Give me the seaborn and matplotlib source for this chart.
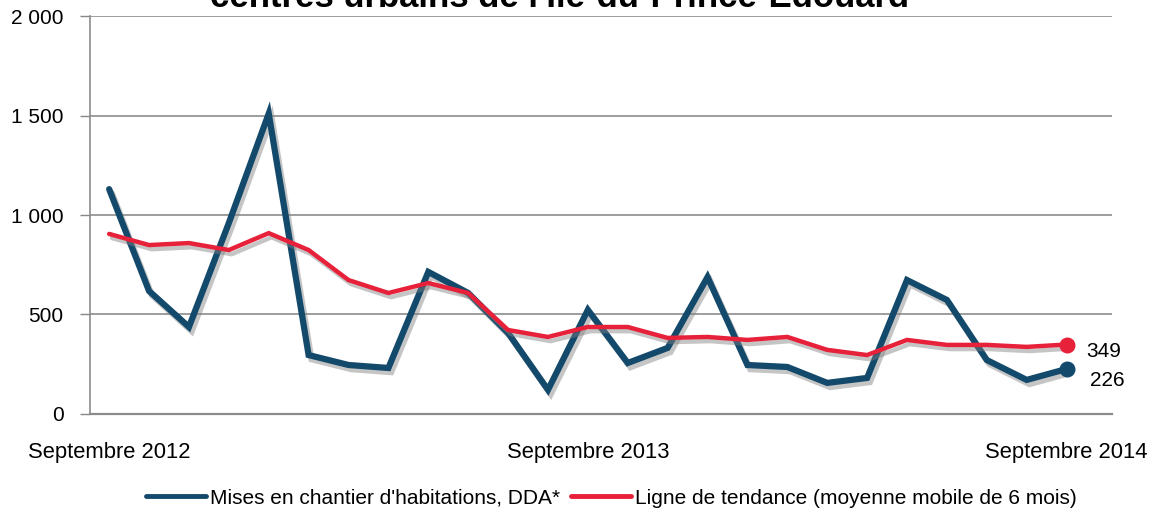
import numpy as np
import pandas as pd
import matplotlib
matplotlib.use("Agg")
import matplotlib.pyplot as plt
import matplotlib.patheffects as pe
import seaborn as sns


# Data (monthly, Sept 2012 -> Sept 2014)
months = list(range(25))

starts = [1130, 618, 437, 960, 1510, 296, 246, 231, 714, 608, 407, 121,
          523, 256, 332, 688, 246, 236, 156, 181, 673, 573, 271, 171, 226]

trend = [905, 849, 859, 824, 909, 824, 673, 608, 658, 608, 422, 387,
         437, 437, 382, 387, 372, 387, 322, 296, 372, 347, 347, 337, 349]

tick_pos = [0, 12, 24]
tick_labels = ["Septembre 2012", "Septembre 2013", "Septembre 2014"]

series_names = ["Mises en chantier d'habitations, DDA*",
                "Ligne de tendance (moyenne mobile de 6 mois)"]

BLUE = "#134a6c"
RED = "#e8213b"


df = pd.DataFrame({
    "mois": months * 2,
    "valeur": starts + trend,
    "serie": [series_names[0]] * 25 + [series_names[1]] * 25,
})


sns.set_style("white")
plt.rcParams["font.family"] = ["Liberation Sans", "DejaVu Sans"]
plt.rcParams["text.color"] = "black"
plt.rcParams["xtick.color"] = "black"
plt.rcParams["ytick.color"] = "black"

fig = plt.figure(figsize=(11.6, 5.2), dpi=100)
ax = fig.add_axes([0.0776, 0.204, 0.8814, 0.765])

shadow = [pe.SimpleLineShadow(offset=(2, -3), shadow_color="gray", alpha=0.45),
          pe.Normal()]

sns.lineplot(
    data=df,
    x="mois",
    y="valeur",
    hue="serie",
    palette=[BLUE, RED],
    ax=ax,
    legend=False,
)

ax.lines[0].set_linewidth(4.5)
ax.lines[1].set_linewidth(3.2)
for ln in ax.lines:
    ln.set_path_effects(shadow)
    ln.set_solid_joinstyle("miter")

# end points
ax.scatter([months[-1]], [starts[-1]], s=110, color=BLUE, zorder=5)
ax.scatter([months[-1]], [trend[-1]], s=110, color=RED, zorder=5)
ax.text(months[-1] + 0.5, trend[-1] - 35, str(trend[-1]),
        fontsize=15, va="center", ha="left")
ax.text(months[-1] + 0.6, starts[-1] - 60, str(starts[-1]),
        fontsize=15, va="center", ha="left")

ax.set_xlim(-0.48, 25.15)
ax.set_ylim(0, 2000)
ax.set_yticks([0, 500, 1000, 1500, 2000])
ax.set_yticklabels(["0", "500", "1 000", "1 500", "2 000"], fontsize=15)
ax.set_xticks(tick_pos)
ax.set_xticklabels(tick_labels, fontsize=15.8)
ax.tick_params(axis="x", length=0, pad=20)
ax.tick_params(axis="y", length=7, width=1, color="#888888", direction="out",
               pad=12, left=True)
ax.set_xlabel("")
ax.set_ylabel("")

ax.grid(axis="y", color="#8c8c8c", linewidth=1.2)
ax.set_axisbelow(True)
for side in ["top", "right"]:
    ax.spines[side].set_visible(False)
ax.spines["left"].set_color("#8c8c8c")
ax.spines["bottom"].set_color("#8c8c8c")
ax.spines["left"].set_linewidth(1.2)
ax.spines["bottom"].set_linewidth(1.6)

# title, cut off at the top like the source image
fig.text(0.482, 1.004, "centres urbains de l'Île-du-Prince-Édouard",
         ha="center", va="center", fontsize=25, fontweight="bold")

# legend
handles = [plt.Line2D([], [], color=BLUE, lw=3.5),
           plt.Line2D([], [], color=RED, lw=3.5)]
fig.legend(handles, series_names, loc="center", bbox_to_anchor=(0.527, 0.042),
           ncol=2, frameon=False, fontsize=15, handlelength=2.9,
           handletextpad=0.2, columnspacing=0.5)

plt.savefig("out.png", dpi=100)
plt.close()
